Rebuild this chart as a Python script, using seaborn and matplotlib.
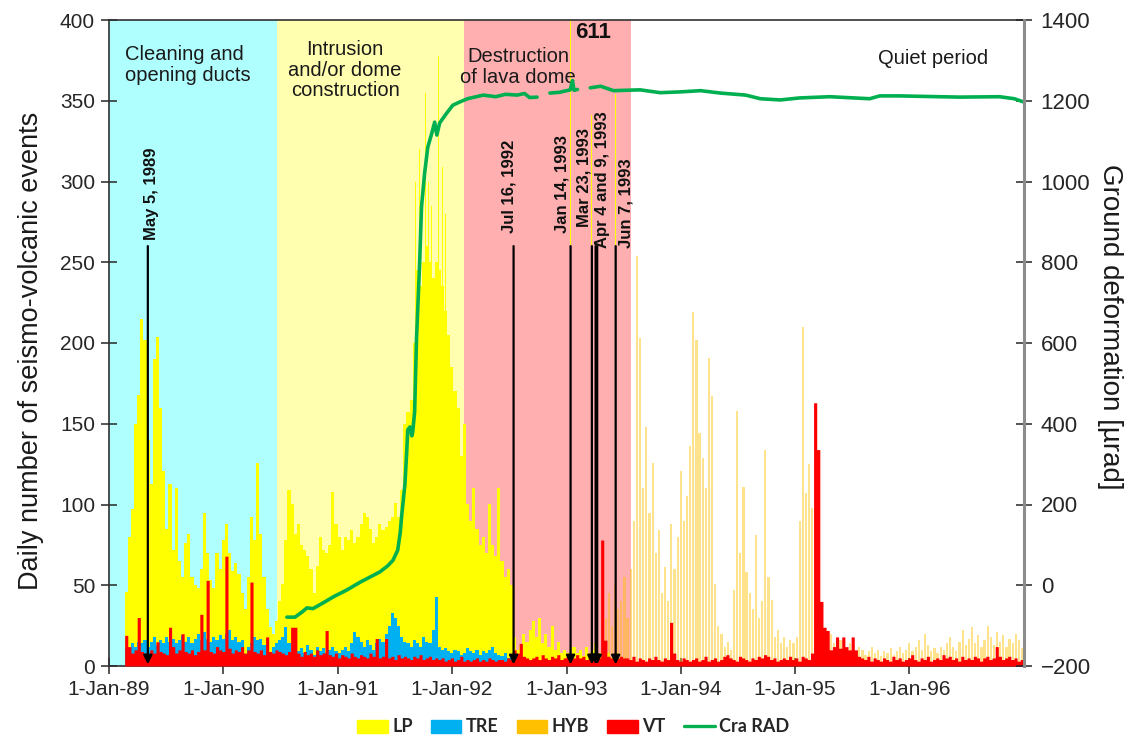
import numpy as np
import pandas as pd
import matplotlib
matplotlib.use("Agg")
import matplotlib.pyplot as plt
import matplotlib.dates as mdates
from matplotlib.patches import Patch
from matplotlib.lines import Line2D
import seaborn as sns

sns.set_theme(style="ticks")
plt.rcParams["font.family"] = ["Liberation Sans", "DejaVu Sans"]

# ---------------- data ----------------
BIN_DAYS = 10  # daily counts summarised on a 10-day grid

LP_START = "1989-02-20"
LP = [
    46, 80, 97, 150, 168, 215, 202, 140, 113, 190,
    204, 160, 121, 85, 113, 72, 110, 65, 55, 76,
    82, 55, 50, 48, 60, 95, 70, 53, 48, 70,
    60, 78, 88, 70, 59, 64, 57, 45, 35, 55,
    92, 78, 126, 82, 55, 35, 24, 20, 28, 40,
    51, 78, 109, 100, 82, 88, 75, 72, 68, 60,
    45, 62, 80, 72, 70, 75, 108, 88, 80, 72,
    80, 78, 84, 76, 80, 88, 95, 92, 85, 76,
    80, 88, 84, 86, 90, 92, 101, 92, 109, 150,
    157, 165, 200, 245, 235, 250, 260, 250, 240, 250,
    245, 235, 220, 205, 185, 170, 160, 130, 150, 100,
    90, 110, 85, 75, 80, 70, 100, 75, 68, 110,
    65, 55, 60, 50, 18, 10, 12, 20, 15, 22,
    28, 18, 30, 14, 20, 12, 25, 10, 15, 8,
    10, 8, 6, 12, 8, 10, 6, 12, 8, 10,
    14, 8, 10, 6, 8, 5, 6, 8, 5, 4,
    3, 4,
]
# single-day LP bursts
LP_PEAK_DATES = ["1991-09-06", "1991-09-20", "1991-10-08", "1991-10-10", "1991-10-17",
                 "1991-10-28", "1991-11-18", "1991-12-01", "1991-12-12",
                 "1993-01-14", "1993-03-23", "1993-06-07"]
LP_PEAK_VALUES = [300, 320, 355, 326, 300, 285, 378, 309, 280, 611, 341, 354]

TRE_START = "1989-02-20"
TRE = [
    12, 10, 14, 12, 15, 14, 16, 12, 15, 18,
    13, 16, 14, 18, 15, 17, 14, 16, 19, 15,
    18, 14, 17, 20, 16, 21, 17, 15, 18, 16,
    19, 17, 20, 22, 16, 18, 15, 16, 7, 12,
    14, 18, 16, 17, 13, 10, 8, 12, 14, 16,
    18, 24, 14, 10, 12, 9, 11, 8, 13, 10,
    7, 12, 9, 11, 8, 10, 12, 9, 8, 10,
    12, 9, 14, 21, 18, 15, 12, 16, 13, 10,
    14, 17, 15, 20, 25, 33, 30, 25, 18, 15,
    14, 12, 16, 14, 12, 18, 15, 14, 22, 43,
    12, 10, 11, 9, 8, 10, 9, 7, 8, 11,
    9, 8, 10, 7, 9, 8, 10, 12, 8, 7,
    6, 8, 5, 6, 4,
]

HYB_START = "1993-05-01"
HYB = [
    30, 45, 25, 50, 35, 40, 55, 30, 60, 90,
    254, 203, 110, 148, 95, 126, 70, 84, 45, 61,
    40, 88, 60, 80, 121, 90, 105, 136, 219, 202,
    144, 129, 110, 191, 167, 51, 25, 20, 12, 15,
    10, 47, 158, 70, 111, 58, 45, 35, 81, 30,
    40, 134, 55, 41, 18, 22, 14, 18, 12, 16,
    14, 18, 90, 210, 107, 125, 98, 30, 22, 15,
    18, 12, 20, 14, 10, 16, 12, 9, 14, 11,
    8, 12, 10, 7, 9, 12, 8, 10, 6, 9,
    8, 11, 7, 9, 12, 8, 10, 14, 9, 12,
    16, 10, 20, 13, 9, 11, 8, 12, 10, 14,
    18, 12, 9, 15, 22, 13, 17, 24, 14, 19,
    12, 16, 25, 18, 13, 21, 15, 19, 12, 17,
    14, 20, 16, 11,
]

VT_START = "1989-02-20"
VT = [
    19, 12, 8, 10, 30, 9, 8, 7, 10, 8,
    15, 9, 8, 7, 24, 12, 8, 10, 20, 9,
    8, 10, 7, 9, 32, 10, 53, 9, 8, 12,
    10, 9, 68, 11, 8, 10, 9, 12, 8, 10,
    52, 9, 8, 10, 7, 18, 9, 8, 10, 9,
    8, 7, 9, 24, 24, 8, 6, 9, 7, 8,
    6, 10, 7, 8, 22, 7, 6, 8, 5, 7,
    6, 5, 8, 6, 5, 7, 6, 5, 8, 6,
    17, 5, 6, 17, 5, 6, 4, 7, 5, 6,
    5, 4, 6, 5, 7, 4, 5, 6, 4, 5,
    4, 5, 3, 4, 5, 3, 4, 6, 3, 4,
    3, 4, 5, 3, 4, 3, 5, 4, 3, 4,
    4, 3, 5, 4, 10, 8, 14, 6, 5, 4,
    5, 6, 4, 7, 5, 4, 6, 5, 7, 4,
    5, 6, 4, 5, 7, 5, 6, 4, 8, 5,
    6, 5, 78, 16, 6, 5, 8, 5, 6, 5,
    5, 4, 6, 3, 5, 4, 3, 5, 4, 6,
    4, 3, 5, 4, 27, 8, 4, 3, 5, 4,
    3, 4, 5, 3, 4, 6, 3, 4, 5, 3,
    4, 6, 7, 5, 4, 3, 6, 5, 4, 3,
    5, 4, 6, 5, 7, 6, 4, 5, 3, 4,
    5, 4, 6, 4, 5, 3, 6, 5, 4, 8,
    163, 134, 40, 24, 22, 10, 12, 18, 11, 18,
    12, 10, 18, 10, 6, 5, 4, 6, 3, 5,
    4, 3, 5, 4, 3, 6, 4, 5, 3, 4,
    5, 7, 4, 3, 5, 4, 6, 3, 4, 5,
    4, 7, 5, 6, 4, 5, 3, 6, 4, 5,
    4, 6, 5, 3, 5, 6, 4, 5, 12, 6,
    4, 5, 6, 4, 5, 3, 4, 5,
]

# Cra RAD tiltmeter (None marks a gap in the record)
RAD_DATES = [
    "1990-07-23", "1990-08-18", "1990-09-10", "1990-09-25", "1990-10-14", "1990-11-15",
    "1990-12-20", "1991-01-30", "1991-03-15", "1991-05-16", "1991-06-10", "1991-06-27",
    "1991-07-12", "1991-07-20", "1991-07-25", "1991-08-04", "1991-08-10", "1991-08-13",
    "1991-08-20", "1991-08-26", "1991-08-29", "1991-09-04", "1991-09-10", "1991-09-20",
    "1991-09-26", "1991-10-06", "1991-10-16", "1991-10-29", "1991-11-07", "1991-11-14",
    "1991-11-23", "1991-12-16", "1992-01-04", "1992-01-26", "1992-02-20", "1992-04-10",
    "1992-05-20", "1992-06-20", "1992-07-27", "1992-08-20", "1992-09-05", "1992-09-29",
    "1992-10-15", "1992-11-09", "1992-12-10", "1993-01-13", "1993-01-20", "1993-01-25",
    "1993-02-05", "1993-02-20", "1993-03-18", "1993-04-20", "1993-05-31", "1993-08-24",
    "1993-10-27", "1994-01-01", "1994-03-05", "1994-05-08", "1994-07-27", "1994-09-12",
    "1994-11-14", "1995-01-16", "1995-04-22", "1995-08-27", "1995-09-28", "1995-11-30",
    "1996-06-09", "1996-10-15", "1996-12-01", "1996-12-31",
]
RAD_VALUES = [
    -79, -79, -66, -56, -58, -44,
    -28, -12, 8, 33, 48, 62,
    87, 130, 175, 250, 335, 385,
    392, 370, 380, 430, 610, 798,
    937, 1021, 1085, 1120, 1147, 1115,
    1145, 1170, 1189, 1197, 1205, 1214,
    1210, 1216, 1214, 1218, 1208, 1209,
    None, 1219, 1221, 1227, 1250, 1226,
    1228, None, 1232, 1236, 1225, 1227,
    1220, 1222, 1225, 1219, 1214, 1205,
    1202, 1207, 1210, 1205, 1212, 1212,
    1209, 1210, 1205, 1197,
]

PHASE_STARTS = ["1989-01-01", "1990-06-23", "1992-02-09"]
PHASE_ENDS = ["1990-06-23", "1992-02-09", "1993-07-27"]
PHASE_LABELS = ["Cleaning and\nopening ducts", "Intrusion\nand/or dome\nconstruction",
                "Destruction\nof lava dome", "Quiet period"]

ARROW_DATES = ["1989-05-05", "1992-07-16", "1993-01-14", "1993-03-23",
               "1993-04-04", "1993-04-09", "1993-06-07"]
EVENT_DATES = ["1989-05-05", "1992-07-16", "1993-01-14", "1993-03-23", "1993-04-04", "1993-06-07"]
EVENT_LABELS = ["May 5, 1989", "Jul 16, 1992", "Jan 14, 1993", "Mar 23, 1993",
                "Apr 4 and 9, 1993", "Jun 7, 1993"]

XTICK_DATES = ["1989-01-01", "1990-01-01", "1991-01-01", "1992-01-01",
               "1993-01-01", "1994-01-01", "1995-01-01", "1996-01-01"]
XTICK_LABELS = ["1-Jan-89", "1-Jan-90", "1-Jan-91", "1-Jan-92",
                "1-Jan-93", "1-Jan-94", "1-Jan-95", "1-Jan-96"]

# ---------------- style ----------------
C_LP, C_TRE, C_HYB, C_VT, C_RAD = "#FFFF00", "#00B0F0", "#FFC000", "#FF0000", "#00B050"
PHASE_COLORS = ["#AFFFFF", "#FFFFAF", "#FFAFAF"]
PHASE_POS = [(0.0175, 0.961, "left"), (0.258, 0.969, "center"),
             (0.447, 0.958, "center"), (0.9005, 0.955, "center")]
EVENT_TEXT_Y = [264, 268, 268, 272, 259, 259]
EVENT_DX = [3, -3, -6.5, -5.8, 4.6, 7.2]   # points, text centre relative to its date


def d2n(s):
    return mdates.date2num(pd.Timestamp(s))


def step_edges(start, values):
    x0 = d2n(start)
    edges = x0 + BIN_DAYS * np.arange(len(values) + 1)
    vals = np.append(np.asarray(values, float), values[-1])
    return edges, vals


fig = plt.figure(figsize=(11.25, 7.36), dpi=100)
ax = fig.add_axes([109 / 1125, 1 - 666 / 736, 915 / 1125, 646 / 736])
ax.set_facecolor("white")

for s, e, c in zip(PHASE_STARTS, PHASE_ENDS, PHASE_COLORS):
    ax.axvspan(d2n(s), d2n(e), color=c, lw=0, zorder=0)

x, y = step_edges(LP_START, LP)
ax.fill_between(x, 0, y, step="post", color=C_LP, lw=0, zorder=1)
ax.bar([d2n(d) for d in LP_PEAK_DATES], LP_PEAK_VALUES, width=3.2, color=C_LP,
       lw=0, zorder=1.1)

x, y = step_edges(TRE_START, TRE)
ax.fill_between(x, 0, y, step="post", color=C_TRE, lw=0, zorder=2)

hyb_x = d2n(HYB_START) + BIN_DAYS * np.arange(len(HYB)) + BIN_DAYS / 2
ax.bar(hyb_x, HYB, width=7, color=C_HYB, alpha=0.45, lw=0, zorder=3)

x, y = step_edges(VT_START, VT)
ax.fill_between(x, 0, y, step="post", color=C_VT, lw=0, zorder=4)

# event arrows
for d in ARROW_DATES:
    ax.annotate("", xy=(d2n(d), 1), xytext=(d2n(d), 260),
                arrowprops=dict(arrowstyle="-|>", color="black", lw=1.6,
                                mutation_scale=13, shrinkA=0, shrinkB=0),
                zorder=6)
for d, lab, ty, dx in zip(EVENT_DATES, EVENT_LABELS, EVENT_TEXT_Y, EVENT_DX):
    ax.annotate(lab, xy=(d2n(d), ty), xytext=(dx, 0), textcoords="offset points",
                rotation=90, ha="center", va="bottom", fontsize=12,
                fontweight="bold", color="#111111", zorder=7)

# value of the off-scale LP burst
ax.annotate(f"{LP_PEAK_VALUES[-3]}", xy=(d2n(LP_PEAK_DATES[-3]), 400),
            xytext=(3.6, -1.5), textcoords="offset points", ha="left", va="top",
            fontsize=16, fontweight="bold", color="#111111", zorder=7)

for lab, (px, py, ha) in zip(PHASE_LABELS, PHASE_POS):
    ax.text(px, py, lab, transform=ax.transAxes, ha=ha, va="top",
            multialignment=ha, fontsize=14.5, color="#1a1a1a", linespacing=1.1,
            zorder=7)

ax.set_xlim(d2n("1989-01-01"), d2n("1997-01-01"))
ax.set_ylim(0, 400)
ax.set_yticks(np.arange(0, 401, 50))
ax.set_xticks([d2n(d) for d in XTICK_DATES])
ax.set_xticklabels(XTICK_LABELS)
ax.tick_params(axis="both", direction="inout", length=12, width=1.1,
               labelsize=15, colors="#262626", pad=4)
ax.set_ylabel("Daily number of seismo-volcanic events", fontsize=19.5,
              color="#1a1a1a", va="center")
ax.yaxis.set_label_coords(-0.085, 0.488)
for side in ["left", "bottom", "top"]:
    ax.spines[side].set_color("#303030")
    ax.spines[side].set_linewidth(1.2)
ax.spines["right"].set_visible(False)

# ground deformation on the secondary axis
ax2 = ax.twinx()
rad = pd.DataFrame({"date": pd.to_datetime(RAD_DATES),
                    "value": pd.to_numeric(pd.Series(RAD_VALUES), errors="coerce")})
rad["segment"] = rad["value"].isna().cumsum()
rad = rad.dropna()
rad["x"] = mdates.date2num(rad["date"])
sns.lineplot(data=rad, x="x", y="value", units="segment", estimator=None, sort=False,
             color=C_RAD, lw=2.6, legend=False, ax=ax2)
ax2.set_ylim(-200, 1400)
ax2.set_yticks(np.arange(-200, 1401, 200))
ax2.set_xlim(d2n("1989-01-01"), d2n("1997-01-01"))
ax2.set_xlabel("")
ax2.tick_params(axis="y", direction="inout", length=12, width=1.1,
                labelsize=16, colors="#262626", pad=6)
ax2.set_ylabel("Ground deformation [\u00b5rad]", fontsize=20, color="#1a1a1a",
               rotation=270, va="center")
ax2.yaxis.set_label_coords(1.094, 0.525)
for side in ["left", "bottom", "top"]:
    ax2.spines[side].set_visible(False)
ax2.spines["right"].set_color("#8c8c8c")
ax2.spines["right"].set_linewidth(2.2)

handles = [Patch(color=C_LP), Patch(color=C_TRE), Patch(color=C_HYB), Patch(color=C_VT),
           Line2D([], [], color=C_RAD, lw=2.4)]
fig.legend(handles, ["LP", "TRE", "HYB", "VT", "Cra RAD"], loc="center",
           bbox_to_anchor=(573 / 1125, 1 - 727 / 736), ncol=5, frameon=False,
           prop={"family": ["Lato", "DejaVu Sans"], "weight": "bold", "size": 13},
           handlelength=1.7, handleheight=0.7, handletextpad=0.25, columnspacing=1.0)

fig.savefig("out.png", dpi=100)
